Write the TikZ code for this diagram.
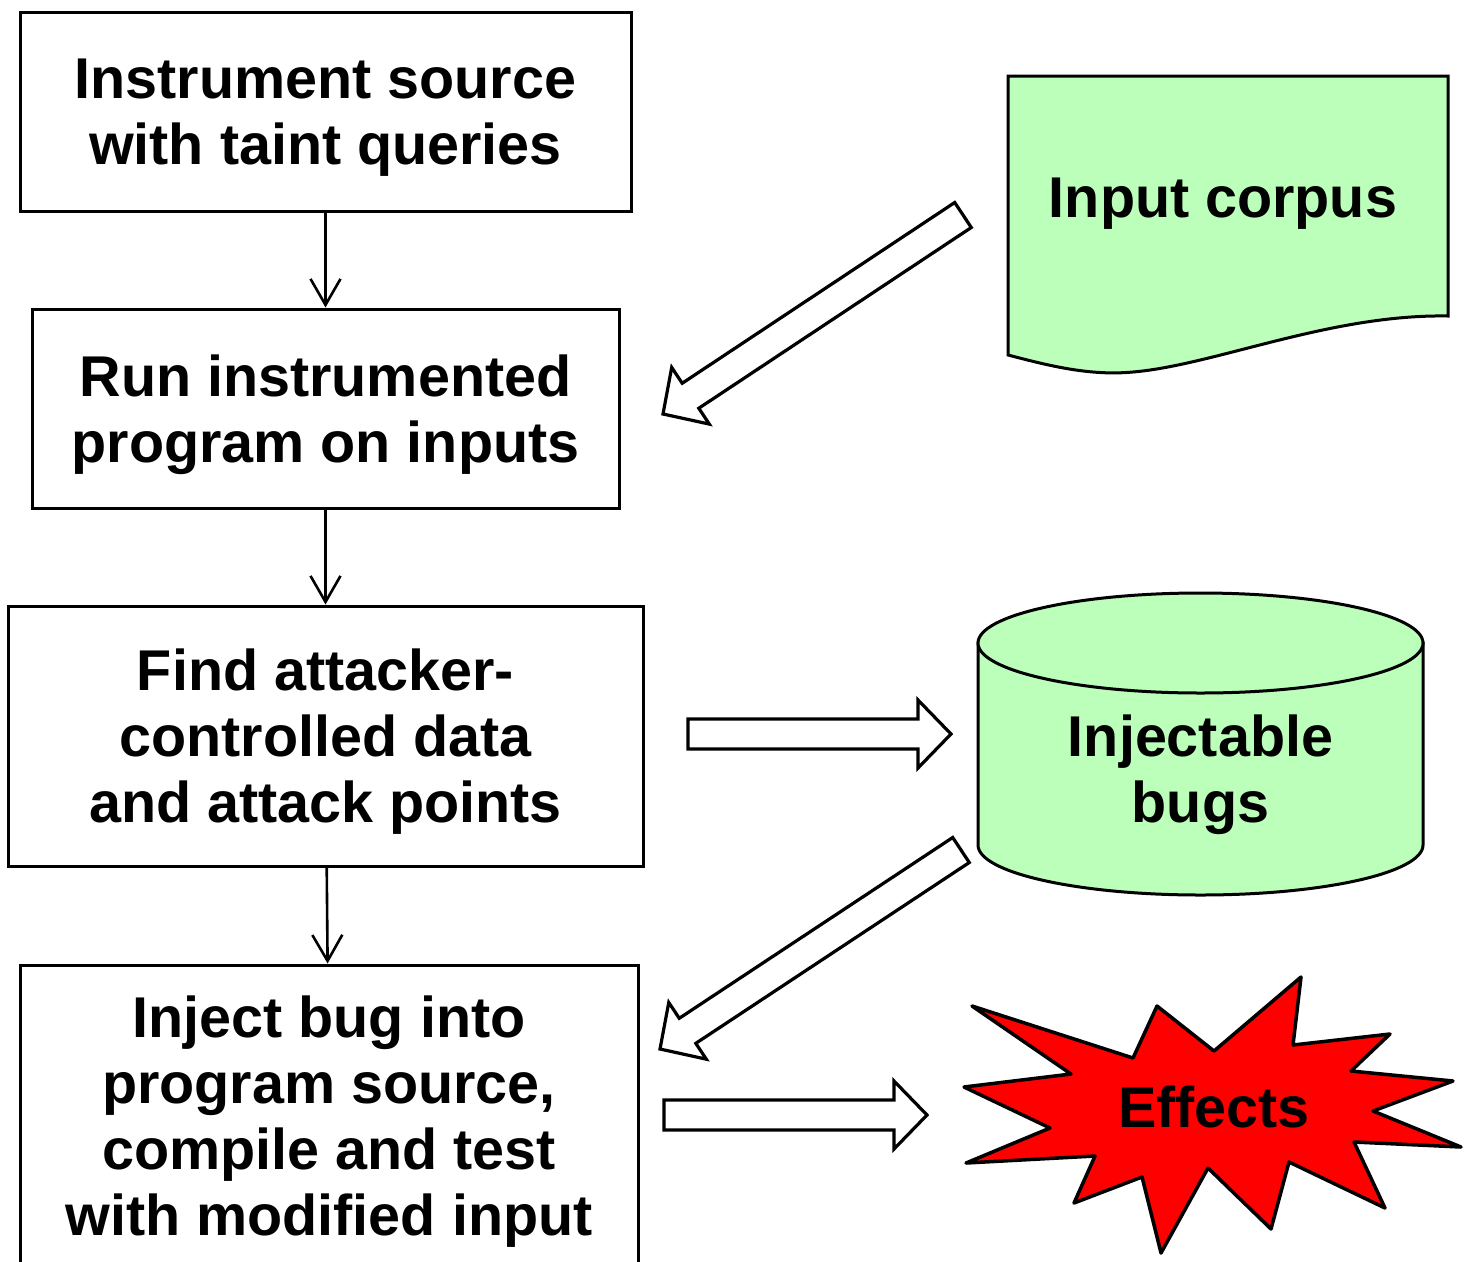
\documentclass[tikz,border=0pt]{standalone}
\usepackage{fontspec}
\setmainfont{Liberation Sans}
\usetikzlibrary{arrows.meta,calc}

\definecolor{storegreen}{RGB}{187,255,187}
\newcommand{\boxfont}{\fontsize{57.5}{66}\selectfont\bfseries}

% hollow block arrow from #1 to #2 (tip at #2)
\newcommand{\fatarrow}[2]{%
  \coordinate (fa-base) at ($(#2)!33pt!(#1)$);
  \draw[fat arrow]
    ($(#1)!15pt!90:(#2)$) -- ($(fa-base)!15pt!90:(#2)$) -- ($(fa-base)!34pt!90:(#2)$)
    -- (#2) -- ($(fa-base)!34pt!-90:(#2)$) -- ($(fa-base)!15pt!-90:(#2)$)
    -- ($(#1)!15pt!-90:(#2)$) -- cycle;}

\tikzset{
  stepbox/.style={draw, line width=3pt, align=center, font=\boxfont, text depth=0pt, inner sep=0pt},
  flow/.style={line width=2.6pt, -{Straight Barb[length=26pt,width=30pt]}},
  fat arrow/.style={draw, line width=3.2pt, fill=white, line join=miter},
  store/.style={draw, line width=3pt, fill=storegreen},
  burst/.style={draw, line width=3.5pt, fill=red, line join=round},
}

\begin{document}
\begin{tikzpicture}[x=1pt,y=-1pt]
  \path[use as bounding box, clip] (0,0) rectangle (1474,1261);

  % the pipeline steps
  \node[stepbox, minimum width=611, minimum height=199] (instrument) at (325.5,111.5) {Instrument source\\with taint queries};
  \node[stepbox, minimum width=587, minimum height=199] (run) at (325.5,408.5) {Run instrumented\\program on inputs};
  \node[stepbox, minimum width=635, minimum height=260] (find) at (325.5,736) {Find attacker-\\controlled data\\and attack points};
  \node[stepbox, minimum width=618, minimum height=302] (inject) at (329,1116) {Inject bug into\\program source,\\compile and test\\with modified input};

  \draw[flow] (instrument) -- (run);
  \draw[flow] (run) -- (find);
  \draw[flow] (find) -- (inject);

  % input corpus (document)
  \begin{scope}
    \draw[store] (1008,76) -- (1448,76) -- (1448,316)
      .. controls (1330,314) and (1215,365) .. (1133,372)
      .. controls (1090,376) and (1050,366) .. (1008,355) -- cycle;
    \node[font=\boxfont, anchor=base] (corpus) at (1223,217) {Input corpus};
  \end{scope}

  % injectable bugs (database)
  \begin{scope}
    \draw[store] (978,643) -- (978,845) arc[start angle=180, end angle=0, x radius=222.5, y radius=50] -- (1423,643) -- cycle;
    \draw[store] (1200.5,643) ellipse [x radius=222.5, y radius=50];
    \node[font=\boxfont, align=center, text depth=0pt, inner sep=0pt] (bugs) at (1200.5,769) {Injectable\\bugs};
  \end{scope}

  % effects (explosion)
  \begin{scope}
    \draw[burst] (972,1006) -- (1133,1058) -- (1157,1006) -- (1214,1051) -- (1301,977)
      -- (1293,1045) -- (1390,1034) -- (1351,1071) -- (1453,1081) -- (1373,1111)
      -- (1461,1147) -- (1354,1142) -- (1385,1208) -- (1289,1162) -- (1271,1229)
      -- (1208,1168) -- (1161,1253) -- (1142,1177) -- (1074,1203) -- (1095,1156)
      -- (966,1163) -- (1050,1128) -- (964,1087) -- (1071,1074) -- cycle;
    \node[font=\boxfont, anchor=base] (effects) at (1214,1127) {Effects};
  \end{scope}

  % block arrows
  \coordinate (corpus-out) at (963,215);
  \coordinate (run-in) at (663,414);
  \coordinate (find-out) at (688,734);
  \coordinate (bugs-in) at (951,734);
  \coordinate (bugs-out) at (961,850);
  \coordinate (inject-in) at (660,1049);
  \coordinate (inject-out) at (664,1115);
  \coordinate (effects-in) at (927,1115);
  \fatarrow{corpus-out}{run-in}
  \fatarrow{find-out}{bugs-in}
  \fatarrow{bugs-out}{inject-in}
  \fatarrow{inject-out}{effects-in}
\end{tikzpicture}
\end{document}
